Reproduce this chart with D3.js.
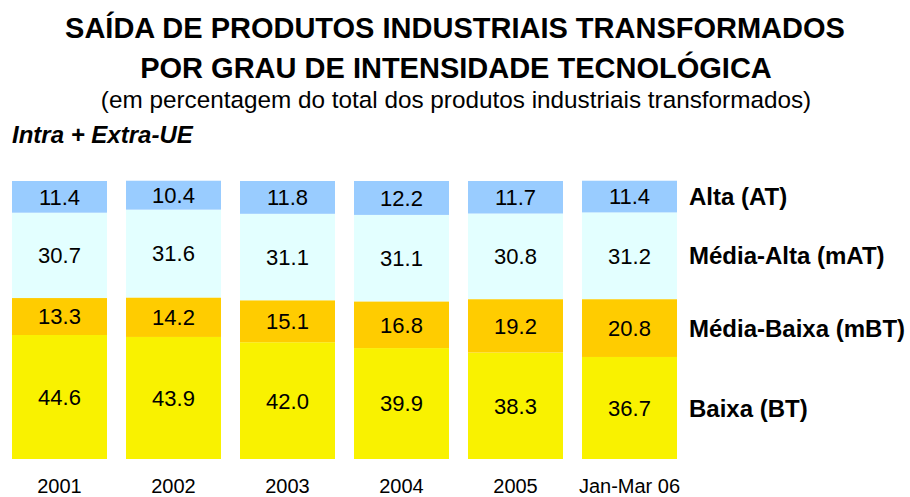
<!DOCTYPE html>
<html>
<head>
<meta charset="utf-8">
<script src="https://cdn.jsdelivr.net/npm/d3@7"></script>
<style>
  body { margin: 0; background: #fff; }
  text { font-family: "Liberation Sans", Arial, sans-serif; fill: #000; }
</style>
</head>
<body>
<div id="chart"></div>
<script>
// periods and series (percent of total)
var periods = ['2001', '2002', '2003', '2004', '2005', 'Jan-Mar 06'];
var baixa = [44.6, 43.9, 42.0, 39.9, 38.3, 36.7];
var mediaBaixa = [13.3, 14.2, 15.1, 16.8, 19.2, 20.8];
var mediaAlta = [30.7, 31.6, 31.1, 31.1, 30.8, 31.2];
var alta = [11.4, 10.4, 11.8, 12.2, 11.7, 11.4];
var seriesNames = ['Baixa (BT)', 'Média-Baixa (mBT)', 'Média-Alta (mAT)', 'Alta (AT)'];
var colors = ['#F9F200', '#FFCC00', '#E3FFFF', '#99CCFF'];

var width = 910, height = 497;

var svg = d3.select('#chart').append('svg')
  .attr('width', width)
  .attr('height', height);

// titles
svg.append('text')
  .attr('x', 455).attr('y', 38)
  .attr('text-anchor', 'middle')
  .style('font-size', '29px').style('font-weight', 'bold')
  .text('SAÍDA DE PRODUTOS INDUSTRIAIS TRANSFORMADOS');
svg.append('text')
  .attr('x', 456).attr('y', 78)
  .attr('text-anchor', 'middle')
  .style('font-size', '29px').style('font-weight', 'bold')
  .text('POR GRAU DE INTENSIDADE TECNOLÓGICA');
svg.append('text')
  .attr('x', 456).attr('y', 108)
  .attr('text-anchor', 'middle')
  .style('font-size', '24.3px')
  .text('(em percentagem do total dos produtos industriais transformados)');
svg.append('text')
  .attr('x', 12).attr('y', 143)
  .style('font-size', '24px').style('font-weight', 'bold').style('font-style', 'italic')
  .text('Intra + Extra-UE');

var x = d3.scaleBand()
  .domain(periods)
  .range([2.5, 686.5])
  .paddingInner(0.1667)
  .paddingOuter(0.0833);

var y = d3.scaleLinear()
  .domain([0, 100])
  .range([459, 181]);

var rows = periods.map(function(p, i) {
  return { period: p, s0: baixa[i], s1: mediaBaixa[i], s2: mediaAlta[i], s3: alta[i] };
});

var stack = d3.stack().keys(['s0', 's1', 's2', 's3']);
var layers = stack(rows);

var g = svg.selectAll('.layer')
  .data(layers)
  .enter().append('g')
  .attr('class', 'layer')
  .style('fill', function(d, i) { return colors[i]; });

g.selectAll('rect')
  .data(function(d) { return d; })
  .enter().append('rect')
  .attr('x', function(d) { return x(d.data.period); })
  .attr('y', function(d) { return y(d[1]); })
  .attr('width', x.bandwidth())
  .attr('height', function(d) { return y(d[0]) - y(d[1]); });

g.selectAll('text')
  .data(function(d) { return d; })
  .enter().append('text')
  .attr('x', function(d) { return x(d.data.period) + x.bandwidth() / 2; })
  .attr('y', function(d) { return (y(d[0]) + y(d[1])) / 2; })
  .attr('dy', '0.36em')
  .attr('text-anchor', 'middle')
  .style('font-size', '22px')
  .text(function(d) { return (d[1] - d[0]).toFixed(1); });

// series names beside the last bar
var last = layers.map(function(l) { return l[l.length - 1]; });
svg.selectAll('.series-label')
  .data(last)
  .enter().append('text')
  .attr('class', 'series-label')
  .attr('x', 689)
  .attr('y', function(d) { return (y(d[0]) + y(d[1])) / 2; })
  .attr('dy', '0.36em')
  .style('font-size', '24px').style('font-weight', 'bold')
  .text(function(d, i) { return seriesNames[i]; });

// period labels
var xAxis = svg.append('g')
  .attr('transform', 'translate(0,459)')
  .call(d3.axisBottom(x).tickSize(0).tickPadding(20));
xAxis.select('.domain').remove();
xAxis.selectAll('text')
  .style('font-family', '"Liberation Sans", Arial, sans-serif')
  .style('font-size', '20px');
</script>
</body>
</html>
